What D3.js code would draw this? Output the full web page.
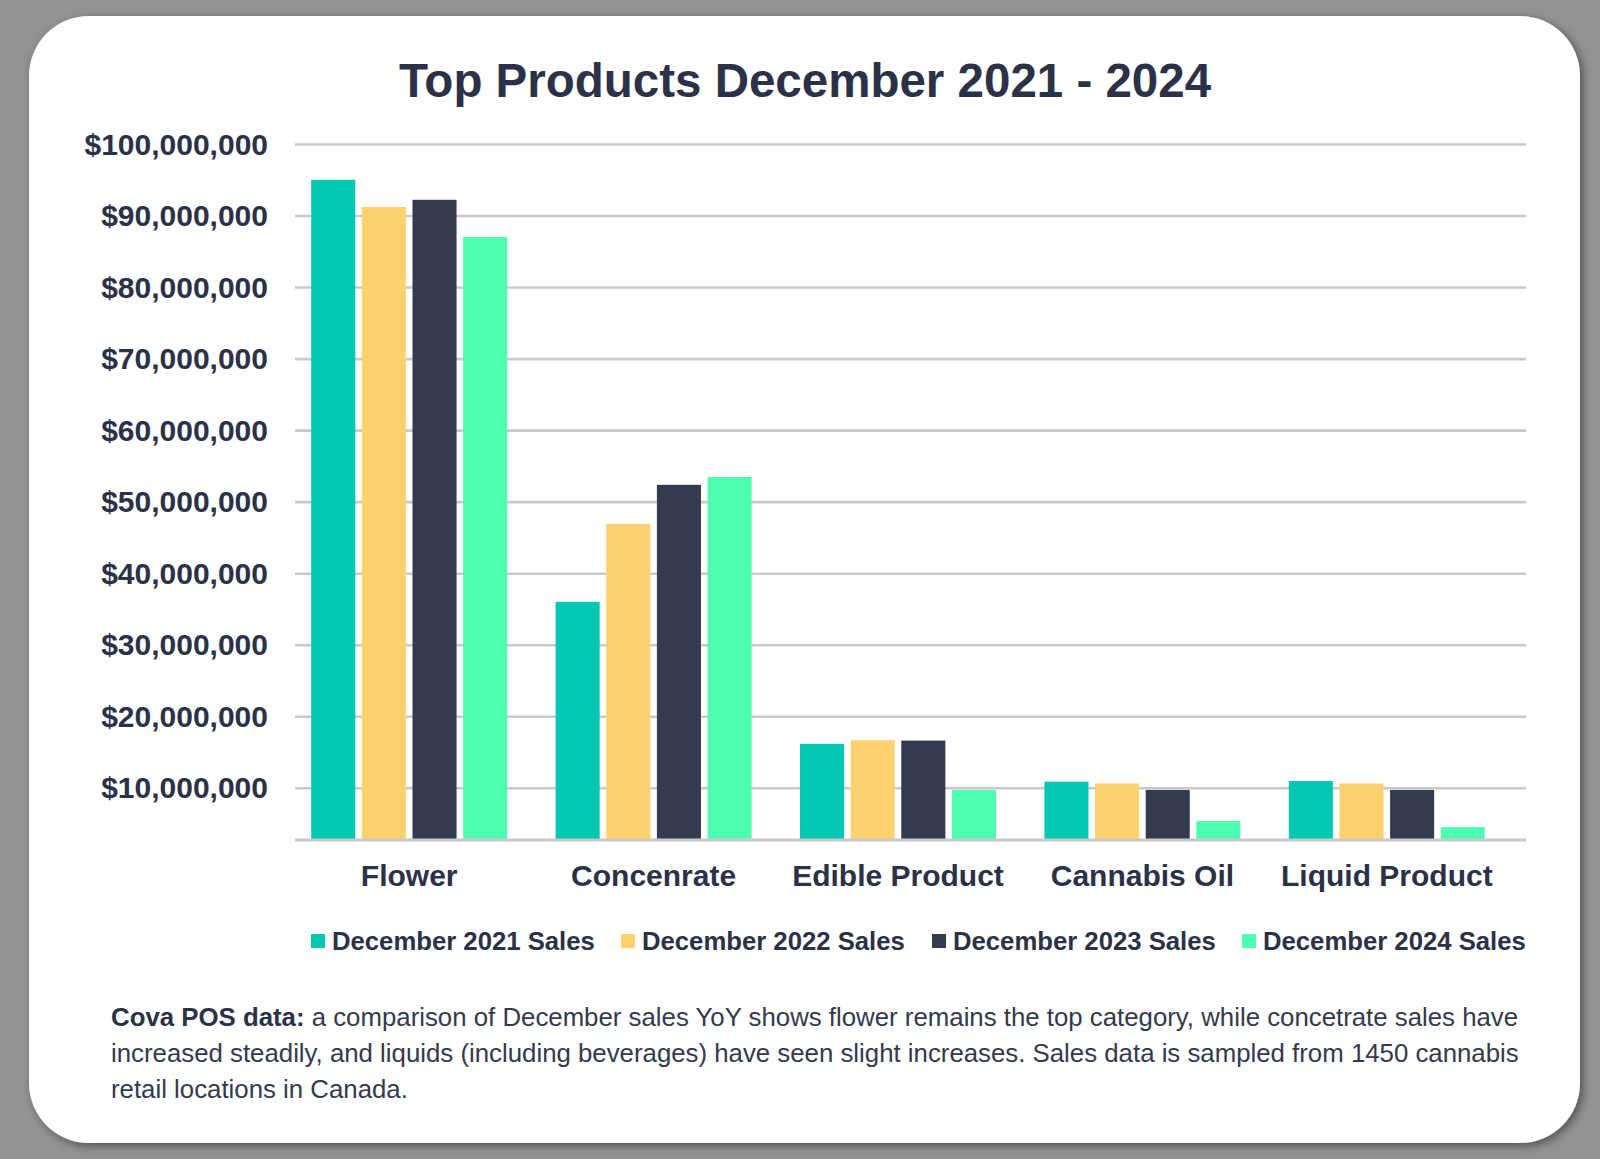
<!DOCTYPE html>
<html>
<head>
<meta charset="utf-8">
<script src="https://cdn.jsdelivr.net/npm/d3@7"></script>
<style>
  body { margin: 0; background: #939393; }
  svg { display: block; font-family: "Liberation Sans", Arial, Helvetica, sans-serif; }
</style>
</head>
<body>
<div id="app"></div>
<script>
// data
const categories = ['Flower', 'Concenrate', 'Edible Product', 'Cannabis Oil', 'Liquid Product'];
const seriesNames = ['December 2021 Sales', 'December 2022 Sales', 'December 2023 Sales', 'December 2024 Sales'];
const sales2021 = [95000000, 36000000, 16150000, 10850000, 10950000];
const sales2022 = [91200000, 46900000, 16650000, 10600000, 10600000];
const sales2023 = [92200000, 52350000, 16600000, 9700000, 9700000];
const sales2024 = [87000000, 53450000, 9700000, 5350000, 4500000];
const yTicks = [10000000, 20000000, 30000000, 40000000, 50000000, 60000000, 70000000, 80000000, 90000000, 100000000];
const yMin = 2700000;

const seriesValues = [sales2021, sales2022, sales2023, sales2024];
const colors = ['#02c7b3', '#fdd16d', '#353b4e', '#4effb1'];
const textColor = '#2b3248';

const w = 1600;
const h = 1159;

const svg = d3.select('#app')
  .append('svg')
  .attr('width', w)
  .attr('height', h);

const defs = svg.append('defs');
const shadow = defs.append('filter').attr('id', 'shadow')
  .attr('x', '-5%').attr('y', '-5%').attr('width', '110%').attr('height', '110%');
shadow.append('feDropShadow')
  .attr('dx', 3).attr('dy', 3)
  .attr('stdDeviation', 5)
  .attr('flood-color', '#000')
  .attr('flood-opacity', 0.45);

// white card
svg.append('rect')
  .attr('x', 29)
  .attr('y', 16)
  .attr('width', 1551)
  .attr('height', 1127)
  .attr('rx', 60)
  .attr('fill', '#fff')
  .attr('filter', 'url(#shadow)');

svg.append('text')
  .attr('x', 805)
  .attr('y', 97)
  .attr('text-anchor', 'middle')
  .style('font-size', '47.5px')
  .style('font-weight', 'bold')
  .attr('fill', textColor)
  .text('Top Products December 2021 - 2024');

const gridLeft = 295;
const gridRight = 1526;

const yScale = d3.scaleLinear()
  .domain([yMin, 100000000])
  .range([840, 144]);

const x0 = d3.scaleBand()
  .domain(categories)
  .range([287, 1509])
  .paddingInner(0)
  .paddingOuter(0);

const x1 = d3.scaleBand()
  .domain(seriesNames)
  .range([0, 196])
  .paddingInner(0.13);

// y axis + gridlines
const yAxis = d3.axisLeft(yScale)
  .tickValues(yTicks)
  .tickFormat(d3.format('$,'))
  .tickSize(0)
  .tickPadding(0);

const yG = svg.append('g')
  .attr('transform', 'translate(' + gridLeft + ',0)')
  .call(yAxis);
yG.select('.domain').remove();
yG.selectAll('.tick line')
  .attr('x1', 0)
  .attr('x2', gridRight - gridLeft)
  .attr('stroke', '#c9c9c9')
  .attr('stroke-width', 2.6);
yG.selectAll('.tick text')
  .attr('x', -27)
  .attr('dy', '0.34em')
  .attr('fill', textColor)
  .style('font-size', '30px')
  .style('font-weight', 'bold');

// bars
const groups = svg.append('g')
  .selectAll('g')
  .data(categories)
  .enter()
  .append('g')
  .attr('transform', (d) => 'translate(' + (x0(d) + (x0.bandwidth() - 196) / 2) + ',0)');

groups.selectAll('rect')
  .data((d, i) => seriesNames.map((s, j) => ({ series: s, j: j, value: seriesValues[j][i] })))
  .enter()
  .append('rect')
  .attr('x', (d) => x1(d.series))
  .attr('y', (d) => yScale(d.value))
  .attr('width', x1.bandwidth())
  .attr('height', (d) => yScale(yMin) - yScale(d.value))
  .attr('fill', (d) => colors[d.j]);

// category axis
const xAxis = d3.axisBottom(x0).tickSize(0).tickPadding(0);
const xG = svg.append('g')
  .attr('transform', 'translate(0,' + yScale(yMin) + ')')
  .call(xAxis);
xG.select('.domain').remove();
xG.selectAll('.tick text')
  .attr('y', 46)
  .attr('dy', 0)
  .attr('fill', textColor)
  .style('font-size', '30px')
  .style('font-weight', 'bold');

svg.append('line')
  .attr('x1', gridLeft)
  .attr('x2', gridRight)
  .attr('y1', yScale(yMin))
  .attr('y2', yScale(yMin))
  .attr('stroke', '#c9c9c9')
  .attr('stroke-width', 3);

// legend
const legendX = [311, 621, 932, 1242];
const legend = svg.append('g')
  .selectAll('g')
  .data(seriesNames)
  .enter()
  .append('g')
  .attr('transform', (d, i) => 'translate(' + legendX[i] + ',941)');

legend.append('rect')
  .attr('x', 0)
  .attr('y', -7)
  .attr('width', 14)
  .attr('height', 14)
  .attr('fill', (d, i) => colors[i]);

legend.append('text')
  .attr('x', 21)
  .attr('y', 9)
  .attr('fill', textColor)
  .style('font-size', '25.7px')
  .style('font-weight', 'bold')
  .text((d) => d);

// footnote
const noteLines = [
  'a comparison of December sales YoY shows flower remains the top category, while concetrate sales have',
  'increased steadily, and liquids (including beverages) have seen slight increases. Sales data is sampled from 1450 cannabis',
  'retail locations in Canada.'
];

const note = svg.append('text')
  .attr('x', 111)
  .attr('y', 1026)
  .attr('fill', '#343a4d')
  .style('font-size', '25.8px');

note.append('tspan')
  .style('font-weight', 'bold')
  .attr('fill', textColor)
  .text('Cova POS data: ');
note.append('tspan').text(noteLines[0]);
note.append('tspan').attr('x', 111).attr('dy', 36).text(noteLines[1]);
note.append('tspan').attr('x', 111).attr('dy', 36).text(noteLines[2]);
</script>
</body>
</html>
